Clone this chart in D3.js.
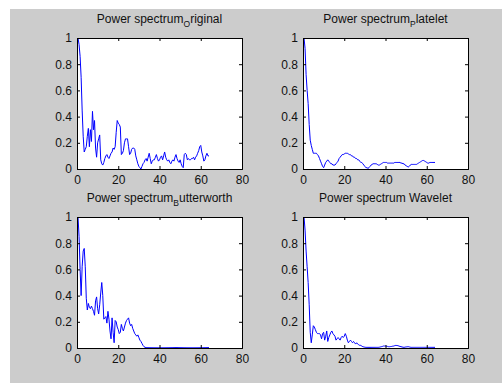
<!DOCTYPE html>
<html>
<head>
<meta charset="utf-8">
<script src="https://cdn.jsdelivr.net/npm/d3@7"></script>
<style>
  html, body { margin: 0; padding: 0; background: #ffffff; }
  svg { display: block; }
  text { font-family: "Liberation Sans", Arial, Helvetica, sans-serif; fill: #111; }
</style>
</head>
<body>
<svg id="chart" width="502" height="383"></svg>
<script>
// ---------- data ----------
const xTicks = [0, 20, 40, 60, 80];
const yTicks = [0, 0.2, 0.4, 0.6, 0.8, 1];
const yTickLabels = ["0", "0.2", "0.4", "0.6", "0.8", "1"];

// sample positions (half-unit frequency bins 0.5 .. 64)
const freq = d3.range(1, 129).map(i => i / 2);

const original = [
  1.00,0.95,0.86,0.70,0.45,0.25,0.13,0.15,0.17,0.25,0.31,0.17,0.30,0.21,0.44,0.30,
  0.37,0.16,0.09,0.20,0.23,0.26,0.07,0.04,0.03,0.05,0.08,0.10,0.11,0.09,0.08,0.10,
  0.12,0.13,0.16,0.15,0.17,0.28,0.37,0.35,0.34,0.32,0.11,0.12,0.14,0.20,0.23,0.23,
  0.23,0.17,0.11,0.12,0.15,0.16,0.16,0.15,0.10,0.07,0.04,0.02,0.01,0.00,0.02,0.04,
  0.05,0.07,0.08,0.06,0.09,0.12,0.08,0.04,0.06,0.07,0.07,0.09,0.11,0.08,0.06,0.07,
  0.09,0.10,0.07,0.10,0.13,0.09,0.07,0.06,0.07,0.05,0.04,0.06,0.07,0.06,0.09,0.11,
  0.08,0.06,0.05,0.07,0.04,0.02,0.01,0.11,0.12,0.11,0.07,0.08,0.07,0.07,0.08,0.08,
  0.09,0.07,0.09,0.10,0.12,0.14,0.17,0.18,0.13,0.10,0.06,0.07,0.10,0.12,0.10,0.10
];

const platelet = [
  1.00,0.92,0.72,0.60,0.50,0.34,0.22,0.18,0.15,0.12,0.12,0.12,0.12,0.11,0.10,0.08,
  0.06,0.04,0.02,0.01,0.03,0.05,0.06,0.07,0.06,0.05,0.04,0.04,0.03,0.03,0.03,0.04,
  0.05,0.06,0.08,0.09,0.10,0.11,0.11,0.115,0.12,0.12,0.12,0.115,0.11,0.11,0.10,0.10,
  0.09,0.09,0.08,0.08,0.07,0.07,0.06,0.05,0.05,0.04,0.03,0.02,0.01,0.01,0.005,0.01,
  0.02,0.03,0.035,0.04,0.04,0.04,0.04,0.035,0.03,0.03,0.035,0.04,0.045,0.05,0.05,0.05,
  0.05,0.045,0.045,0.045,0.045,0.045,0.045,0.045,0.05,0.05,0.05,0.05,0.05,0.05,0.045,0.045,
  0.04,0.04,0.03,0.025,0.02,0.015,0.02,0.03,0.035,0.035,0.035,0.035,0.035,0.035,0.04,0.045,
  0.05,0.055,0.06,0.065,0.065,0.06,0.055,0.05,0.045,0.045,0.05,0.05,0.05,0.05,0.05,0.05
];

const butterworth = [
  1.00,0.85,0.60,0.40,0.62,0.74,0.76,0.62,0.38,0.29,0.34,0.31,0.30,0.32,0.30,0.28,
  0.25,0.36,0.39,0.30,0.26,0.33,0.42,0.50,0.40,0.22,0.23,0.24,0.19,0.28,0.22,0.13,
  0.07,0.23,0.12,0.04,0.21,0.20,0.16,0.14,0.11,0.12,0.18,0.15,0.13,0.16,0.19,0.21,
  0.22,0.23,0.19,0.17,0.18,0.15,0.13,0.11,0.10,0.09,0.10,0.08,0.06,0.05,0.035,0.02,
  0.01,0.005,0.003,0.003,0.003,0.003,0.003,0.003,0.003,0.003,0.003,0.003,0.003,0.003,0.003,0.003,
  0.003,0.003,0.003,0.003,0.003,0.003,0.003,0.003,0.003,0.003,0.003,0.003,0.003,0.003,0.003,0.003,
  0.003,0.003,0.003,0.003,0.003,0.003,0.003,0.003,0.003,0.003,0.003,0.003,0.003,0.003,0.003,0.003,
  0.003,0.003,0.003,0.003,0.003,0.003,0.003,0.003,0.003,0.003,0.003,0.003,0.003,0.003,0.003,0.003
];

const wavelet = [
  1.00,0.90,0.74,0.62,0.50,0.33,0.12,0.04,0.10,0.17,0.16,0.14,0.12,0.11,0.11,0.11,
  0.10,0.07,0.11,0.12,0.06,0.09,0.13,0.05,0.08,0.10,0.12,0.13,0.11,0.10,0.09,0.06,
  0.07,0.08,0.07,0.06,0.08,0.09,0.08,0.09,0.11,0.09,0.06,0.04,0.05,0.06,0.05,0.04,
  0.05,0.04,0.03,0.04,0.03,0.025,0.02,0.02,0.015,0.01,0.008,0.006,0.005,0.005,0.005,0.005,
  0.005,0.005,0.005,0.005,0.005,0.005,0.005,0.005,0.005,0.006,0.008,0.01,0.012,0.015,0.015,0.015,
  0.013,0.012,0.01,0.01,0.011,0.012,0.014,0.015,0.018,0.02,0.019,0.018,0.015,0.012,0.01,0.008,
  0.006,0.005,0.007,0.008,0.009,0.01,0.008,0.006,0.005,0.005,0.005,0.005,0.005,0.005,0.005,0.005,
  0.005,0.005,0.005,0.005,0.005,0.005,0.005,0.005,0.005,0.005,0.005,0.005,0.005,0.005,0.005,0.005
];

const panels = [
  { title: ["Power spectrum", "O", "riginal"], values: original,    col: 0, row: 0 },
  { title: ["Power spectrum", "P", "latelet"], values: platelet,    col: 1, row: 0 },
  { title: ["Power spectrum", "B", "utterworth"], values: butterworth, col: 0, row: 1 },
  { title: ["Power spectrum Wavelet"], values: wavelet,             col: 1, row: 1 }
];

// ---------- layout ----------
const svg = d3.select("#chart");
svg.append("rect").attr("x", 10).attr("y", 9).attr("width", 492).attr("height", 374).attr("fill", "#cccccc");

const colX = [77, 303];
const rowY = [38, 217];
const pw = 165, ph = 131;

panels.forEach(p => {
  const ox = colX[p.col], oy = rowY[p.row];
  const x = d3.scaleLinear().domain([0, 80]).range([ox, ox + pw]);
  const y = d3.scaleLinear().domain([0, 1]).range([oy + ph, oy]);
  const g = svg.append("g");

  g.append("rect").attr("x", ox).attr("y", oy).attr("width", pw).attr("height", ph).attr("fill", "#ffffff");

  const line = d3.line().x((d, i) => x(freq[i])).y(d => y(d));
  g.append("path").datum(p.values).attr("d", line)
    .attr("fill", "none").attr("stroke", "#0000ff").attr("stroke-width", 1);

  // axes (ticks inward, mirrored on top/right)
  const axB = d3.axisBottom(x).tickValues(xTicks).tickSize(-3).tickPadding(6).tickFormat(d3.format("d"));
  const axT = d3.axisTop(x).tickValues(xTicks).tickSize(-3).tickFormat("");
  const axL = d3.axisLeft(y).tickValues(yTicks).tickSize(-3).tickPadding(6).tickFormat((d, i) => yTickLabels[i]);
  const axR = d3.axisRight(y).tickValues(yTicks).tickSize(-3).tickFormat("");

  const gb = g.append("g").attr("transform", `translate(0,${oy + ph})`).call(axB);
  const gt = g.append("g").attr("transform", `translate(0,${oy})`).call(axT);
  const gl = g.append("g").attr("transform", `translate(${ox},0)`).call(axL);
  const gr = g.append("g").attr("transform", `translate(${ox + pw},0)`).call(axR);
  [gb, gt, gl, gr].forEach(a => {
    a.select(".domain").attr("stroke", "#000").attr("stroke-width", 1);
    a.selectAll(".tick line").attr("stroke", "#000");
    a.selectAll("text").attr("font-size", 12).attr("fill", "#111")
      .attr("font-family", "'Liberation Sans', Arial, sans-serif");
  });
  gl.selectAll("text").attr("dx", 1);

  // title with MATLAB-style subscript
  const t = g.append("text").attr("x", ox + pw / 2).attr("y", oy - 15)
    .attr("text-anchor", "middle").attr("font-size", 12);
  if (p.title.length === 1) {
    t.text(p.title[0]);
  } else {
    t.append("tspan").text(p.title[0]);
    t.append("tspan").text(p.title[1]).attr("font-size", 8.5).attr("dy", 4);
    t.append("tspan").text(p.title[2]).attr("dy", -4);
  }
});
</script>
</body>
</html>
